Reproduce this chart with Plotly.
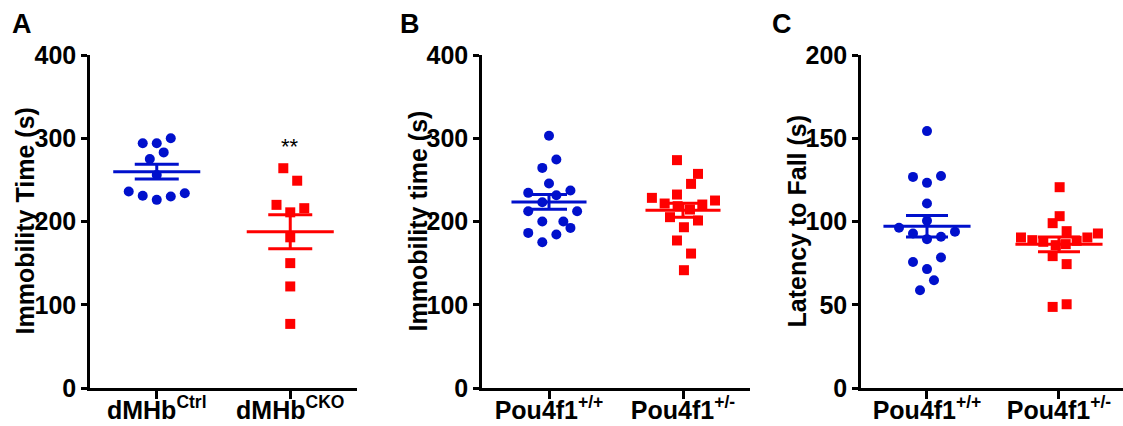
import numpy as np
import plotly.graph_objects as go

W, H = 1123, 426
BLUE = "#0010CC"
RED = "#FF0000"
FONT = "Liberation Sans, Arial, sans-serif"

# ---------------- data ----------------
# Panel A: Immobility Time (s)
a_ctrl = [294, 294, 300, 283, 275, 256, 236, 231, 226, 230, 234]
a_cko = [264, 249, 220, 216, 211, 181, 150, 122, 77]
a_ticklabels = ["<b>dMHb<sup>Ctrl</sup></b>", "<b>dMHb<sup>CKO</sup></b>"]

# Panel B: Immobility time (s)
b_wt = [303, 274.5, 264.4, 245.7, 234.4, 237.3, 231.6, 223.2, 212.4, 212.4,
        200, 200, 192.3, 186.3, 184.4, 175.1]
b_het = [273.7, 257.2, 245.2, 228.4, 232.4, 225.2, 221.6, 220.4, 218.4, 214.4,
         205.2, 201.2, 193.1, 177.2, 161.5, 141.5]

# Panel C: Latency to Fall (s)
c_wt = [154.3, 126.8, 127.3, 123.2, 110.8, 100.4, 96.2, 92.8, 93.8, 89.4,
        90.8, 75.7, 78.4, 71.4, 64.7, 58.7]
c_het = [120.6, 103.2, 99.0, 94.2, 92.8, 90.4, 90.4, 88.8, 87.8, 88.4,
         85.8, 86.4, 79.2, 74.4, 48.7, 50.3]
pou_ticklabels = ["<b>Pou4f1<sup>+/+</sup></b>", "<b>Pou4f1<sup>+/-</sup></b>"]

# horizontal scatter offsets of the dots (category units)
a_ctrl_jit = [-0.105, 0, 0.105, 0.052, -0.052, 0, -0.21, -0.105, 0, 0.105, 0.21]
a_cko_jit = [-0.052, 0.052, -0.103, 0.105, 0, 0, 0, 0, 0]
b_wt_jit = [0, 0.055, -0.05, 0, -0.155, 0.16, 0.055, -0.05, -0.155, 0.21,
            -0.05, 0.107, 0.16, -0.155, 0.055, -0.05]
b_het_jit = [-0.045, 0.112, 0.06, -0.232, -0.045, 0.239, -0.137, 0.144, -0.04,
             0.052, -0.097, 0.112, 0.007, -0.045, 0.06, 0.007]
c_wt_jit = [0, -0.106, 0.106, 0, 0, 0, -0.212, -0.106, 0.212, 0, 0.106,
            -0.106, 0.106, 0, 0.053, -0.053]
c_het_jit = [0.005, 0.005, -0.048, 0.058, 0.295, -0.288, 0.215, -0.202, -0.119,
             0.134, -0.025, 0.051, -0.048, 0.058, -0.048, 0.058]

panels = [
    dict(groups=[a_ctrl, a_cko], jit=[a_ctrl_jit, a_cko_jit], ticks=a_ticklabels,
         title="Immobility Time (s)", ymax=400, dtick=100,
         xdom=(90, 357), xr=(-0.5, 1.5), mean_hw=0.326, cap=22, letter="A",
         letter_x=22, title_x=24),
    dict(groups=[b_wt, b_het], jit=[b_wt_jit, b_het_jit], ticks=pou_ticklabels,
         title="Immobility time (s)", ymax=400, dtick=100,
         xdom=(482, 750), xr=(-0.5, 1.5), mean_hw=0.28, cap=18, letter="B",
         letter_x=410, title_x=417),
    dict(groups=[c_wt, c_het], jit=[c_wt_jit, c_het_jit], ticks=pou_ticklabels,
         title="Latency to Fall (s)", ymax=200, dtick=50,
         xdom=(861, 1123), xr=(-0.5, 1.485), mean_hw=0.33, cap=21, letter="C",
         letter_x=782, title_x=796),
]

Y_TOP, Y_BOT = 55, 388
ydom = [1 - Y_BOT / H, 1 - Y_TOP / H]

fig = go.Figure()
layout = dict(width=W, height=H, margin=dict(l=0, r=0, t=0, b=0, autoexpand=False),
              paper_bgcolor="white", plot_bgcolor="white", showlegend=False,
              font=dict(family=FONT, color="black"))
annotations = []
colors = [BLUE, RED]
symbols = ["circle", "square"]
sizes = [10, 10]

for k, p in enumerate(panels):
    n = k + 1
    xa = "x" if n == 1 else f"x{n}"
    ya = "y" if n == 1 else f"y{n}"
    for g, (vals, jit) in enumerate(zip(p["groups"], p["jit"])):
        vals = np.asarray(vals, float)
        m = vals.mean()
        sem = vals.std(ddof=1) / np.sqrt(len(vals))
        xs = [g + j for j in jit]
        # dots
        fig.add_trace(go.Scatter(x=xs, y=vals, mode="markers", xaxis=xa, yaxis=ya,
                                 marker=dict(symbol=symbols[g], size=sizes[g],
                                             color=colors[g], line=dict(width=0)),
                                 cliponaxis=False))
        # mean line
        fig.add_trace(go.Scatter(x=[g - p["mean_hw"], g + p["mean_hw"]], y=[m, m],
                                 mode="lines", xaxis=xa, yaxis=ya,
                                 line=dict(color=colors[g], width=3)))
        # SEM
        fig.add_trace(go.Scatter(x=[g], y=[m], mode="markers", xaxis=xa, yaxis=ya,
                                 marker=dict(size=1, color=colors[g], opacity=0),
                                 error_y=dict(type="data", array=[sem], visible=True,
                                              color=colors[g], thickness=3,
                                              width=p["cap"])))
    xd = [p["xdom"][0] / W, p["xdom"][1] / W]
    layout["xaxis" if n == 1 else f"xaxis{n}"] = dict(
        domain=xd, range=list(p["xr"]), anchor=ya, tickmode="array",
        tickvals=[0, 1], ticktext=p["ticks"], ticks="outside", ticklen=8,
        tickwidth=2.5, tickcolor="black", showline=True, linecolor="black",
        linewidth=2.5, showgrid=False, zeroline=False, automargin=False,
        ticklabelstandoff=-10,
        tickfont=dict(family=FONT, size=25, color="black"))
    layout["yaxis" if n == 1 else f"yaxis{n}"] = dict(
        domain=ydom, range=[0, p["ymax"]], anchor=xa, dtick=p["dtick"],
        tick0=0, ticks="outside", ticklen=6, tickwidth=2.5, tickcolor="black",
        showline=True, linecolor="black", linewidth=2.5, showgrid=False,
        zeroline=False, automargin=False,
        tickfont=dict(family=FONT, size=25, color="black"),
        tickprefix="<b>", ticksuffix="</b>")
    annotations.append(dict(text=f"<b>{p['letter']}</b>", x=p["letter_x"] / W,
                            y=1 - 24 / H, xref="paper", yref="paper",
                            xanchor="center", yanchor="middle",
                            showarrow=False, font=dict(family=FONT, size=27)))
    annotations.append(dict(text=f"<b>{p['title']}</b>", x=p["title_x"] / W,
                            y=(ydom[0] + ydom[1]) / 2, xref="paper", yref="paper",
                            xanchor="center", yanchor="middle",
                            showarrow=False, textangle=-90,
                            font=dict(family=FONT, size=25)))

# significance marker in panel A
annotations.append(dict(text="**", x=1, y=a_cko[0] + 26, xref="x", yref="y",
                        xanchor="center", yanchor="middle",
                        showarrow=False, font=dict(family=FONT, size=22)))

layout["annotations"] = annotations
fig.update_layout(**layout)
fig.write_html("out.html", config={"displayModeBar": False},
               post_script="document.body.style.margin='0';"
                           "document.body.style.overflow='hidden';")
